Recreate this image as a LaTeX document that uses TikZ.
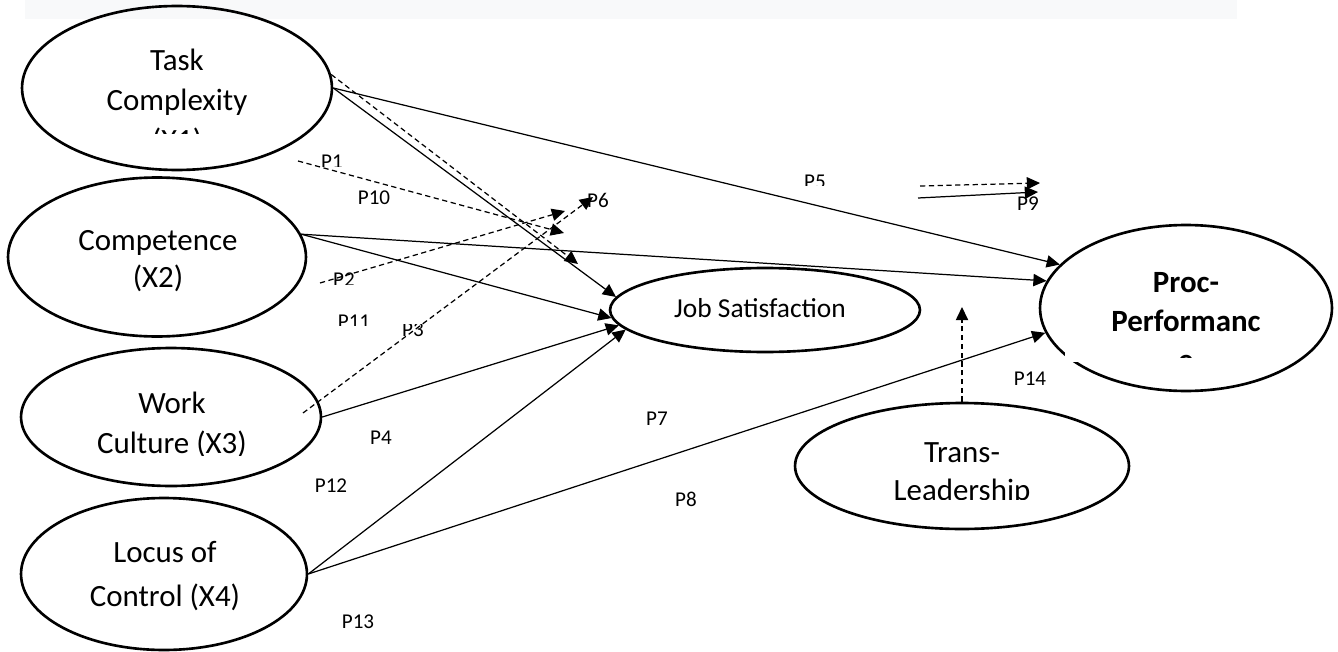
\documentclass[tikz,border=0pt]{standalone}
\usepackage{fontspec}
\setmainfont{Carlito}
\usetikzlibrary{arrows.meta,shapes.geometric}
\definecolor{bandgray}{RGB}{248,249,250}

\begin{document}
\begin{tikzpicture}[
  x=0.02cm,y=-0.02cm,
  construct/.style={draw,ellipse,line width=1.5pt,inner sep=0pt},
  inner text/.style={align=center,inner sep=0pt,font=\fontsize{17.6}{22.7}\selectfont},
  plabel/.style={inner sep=0pt,font=\fontsize{12}{14}\selectfont},
  effect/.style={-{Triangle[length=7.5pt,width=7pt]},line width=0.7pt},
  moderation/.style={effect,dash pattern=on 3pt off 2pt}
]
\useasboundingbox (0,0) rectangle (1338,652);
\fill[bandgray] (25,0) rectangle (1237,19);
\node[construct,minimum width=6.2cm,minimum height=3.28cm] (tc) at (177,88) {};
\node[construct,minimum width=5.96cm,minimum height=3.18cm] (cp) at (157,257) {};
\node[construct,minimum width=6.0cm,minimum height=2.76cm] (wc) at (171,417) {};
\node[construct,minimum width=5.72cm,minimum height=3.04cm] (lc) at (164,574) {};
\node[construct,minimum width=6.2cm,minimum height=1.68cm] (js) at (765,310) {};
\node[construct,minimum width=5.84cm,minimum height=3.32cm] (pp) at (1186,308) {};
\node[construct,minimum width=6.68cm,minimum height=2.52cm] (tl) at (962,466) {};
\begin{scope}
\clip (30,20) rectangle (325,133);
\node[inner text] (tc-text) at (177,102) {Task\\Complexity\\(X1)};
\end{scope}
\node[inner text] (cp-text) at (158,261) {Competence\\[-1.2pt](X2)};
\begin{scope}
\clip (30,370) rectangle (315,455);
\node[inner text] (wc-text) at (172,425) {Work\\Culture (X3)};
\end{scope}
\node[inner text] (lc-text) at (165,576) {Locus of\\[2.8pt]Control (X4)};
\node[inner text,font=\fontsize{15.6}{18}\selectfont] (js-text) at (760,308) {Job Satisfaction};
\fill[white] (1065,268) rectangle (1290,362);
\begin{scope}
\clip (1065,250) rectangle (1305,357);
\node[inner text,font=\fontsize{17.6}{22.2}\selectfont\bfseries] (pp-text) at (1186,322) {Proc-\\Performanc\\e};
\end{scope}
\begin{scope}
\clip (820,420) rectangle (1110,499);
\node[inner text,font=\fontsize{17.6}{21.5}\selectfont] (tl-text) at (962,474) {Trans-\\Leadership};
\end{scope}
\coordinate (m1) at (578,264);
\coordinate (m2a) at (298,161);
\coordinate (m2b) at (564,233);
\coordinate (m3a) at (320,283);
\coordinate (m3b) at (565,211);
\coordinate (m4a) at (303,413);
\coordinate (m4b) at (593,197);
\coordinate (m5a) at (920,186);
\coordinate (m5b) at (1040,183);
\coordinate (e1a) at (918,198);
\coordinate (e1b) at (1038,192);
\coordinate (m6) at (962,307);
\draw[effect] (tc.east) -- (js.175);
\draw[effect] (tc.east) -- (pp.161);
\draw[effect] (cp.9) -- (pp.169);
\draw[effect] (cp.9) -- (js.183);
\draw[effect] (wc.east) -- (js.186);
\draw[effect] (lc.east) -- (js.188);
\draw[effect] (lc.east) -- (pp.190);
\draw[moderation] (tc.5) -- (m1);
\draw[moderation] (m2a) -- (m2b);
\draw[moderation] (m3a) -- (m3b);
\draw[moderation] (m4a) -- (m4b);
\draw[moderation] (m5a) -- (m5b);
\draw[effect] (e1a) -- (e1b);
\draw[moderation] (tl.north) -- (m6);
\begin{scope}
\clip (310,140) rectangle (360,166);
\node[plabel] (lp1) at (332,162) {P1};
\end{scope}
\node[plabel] (lp10) at (374,198) {P10};
\begin{scope}
\clip (320,260) rectangle (370,284);
\node[plabel] (lp2) at (344,280) {P2};
\end{scope}
\begin{scope}
\clip (330,300) rectangle (380,325);
\node[plabel] (lp11) at (354,322) {P11};
\end{scope}
\begin{scope}
\clip (395,324) rectangle (435,350);
\node[plabel] (lp3) at (413,330) {P3};
\end{scope}
\node[plabel] (lp6) at (598,200) {P6};
\begin{scope}
\clip (795,165) rectangle (835,185);
\node[plabel] (lp5) at (815,182) {P5};
\end{scope}
\node[plabel] (lp9) at (1028,204) {P9};
\node[plabel] (lp14) at (1030,379) {P14};
\node[plabel] (lp7) at (657,419) {P7};
\node[plabel] (lp4) at (381,438) {P4};
\node[plabel] (lp12) at (331,486) {P12};
\node[plabel] (lp8) at (686,499) {P8};
\node[plabel] (lp13) at (358,622) {P13};
\end{tikzpicture}
\end{document}
